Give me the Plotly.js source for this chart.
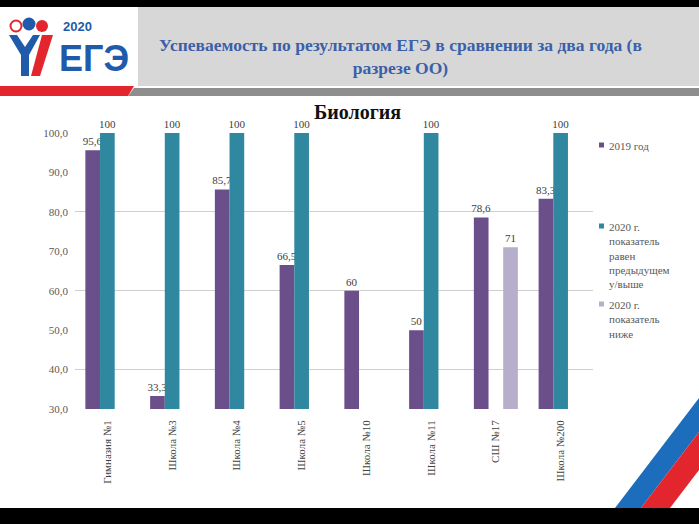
<!DOCTYPE html>
<html><head><meta charset="utf-8">
<script src="https://cdn.plot.ly/plotly-3.0.1.min.js"></script>
<style>html,body{margin:0;padding:0;background:#fff;}#chart{width:699px;height:524px;}</style>
</head><body><div id="chart"></div>
<script>
const categories = ['Гимназия №1','Школа №3','Школа №4','Школа №5','Школа №10','Школа №11','СШ №17','Школа №200'];
const v2019 = [95.6, 33.3, 85.7, 66.5, 60, 50, 78.6, 83.3];
const v2020same = [100, 100, 100, 100, null, 100, null, 100];
const v2020lower = [null, null, null, null, null, null, 71, null];
const seriesNames = ['2019 год', '2020 г.<br>показатель<br>равен<br>предыдущем<br>у/выше', '2020 г.<br>показатель<br>ниже'];
const seriesColors = ['#6B4F8B', '#2F87A0', '#B7AECB'];
const chartTitle = 'Биология';
const headerTitle = 'Успеваемость по результатом ЕГЭ в сравнении за два года (в<br>разрезе ОО)';

const L = 75, R = 593, T = 133, B = 409, W = 699, H = 524;
const X = p => (p - L) / (R - L);
const Y = p => (B - p) / (B - T);
const fmt = v => v == null ? '' : String(v).replace('.', ',');
const poly = pts => 'M' + pts.map(p => X(p[0]) + ',' + Y(p[1])).join(' L') + ' Z';

const serif = 'Liberation Serif, Times New Roman, serif';
const sans = 'Liberation Sans, Arial, sans-serif';
const seriesValues = [v2019, v2020same, v2020lower];
const traces = seriesValues.map((vals, i) => ({
  type: 'bar', x: categories, y: vals, name: seriesNames[i],
  marker: {color: seriesColors[i]},
  text: vals.map(fmt), textposition: 'outside', cliponaxis: false, constraintext: 'none',
  textfont: {family: serif, size: 11, color: '#404040'},
  showlegend: false, hoverinfo: 'skip'
}));
// invisible trace for the 20-step gridlines
traces.push({type: 'scatter', x: [categories[0]], y: [null], yaxis: 'y2', showlegend: false, hoverinfo: 'skip'});

const rect = (x0, y0, x1, y1, color) => ({type: 'rect', xref: 'paper', yref: 'paper', x0: X(x0), x1: X(x1), y0: Y(y0), y1: Y(y1), fillcolor: color, line: {width: 0}, layer: 'below'});
const path = (pts, color) => ({type: 'path', xref: 'paper', yref: 'paper', path: poly(pts), fillcolor: color, line: {width: 0}, layer: 'below'});
const circ = (cx, cy, r, fill, lineColor, lw) => ({type: 'circle', xref: 'paper', yref: 'paper', x0: X(cx - r), x1: X(cx + r), y0: Y(cy + r), y1: Y(cy - r), fillcolor: fill, line: {color: lineColor, width: lw}, layer: 'above'});

const shapes = [
  rect(0, 0, W, 7, '#000'),
  rect(138, 7, W, 86, '#D7D7D7'),
  path([[0, 86], [134, 86], [128, 96], [0, 96]], '#E3262D'),
  path([[134, 88], [W, 88], [W, 96], [128, 96]], '#8E8E8E'),
  rect(0, 508, W, H, '#000'),
  path([[615, 508], [641, 508], [W, 432], [W, 398]], '#1C6DBB'),
  path([[641, 508], [670, 508], [W, 470], [W, 432]], '#E3262D'),
  // logo figures
  path([[9, 35], [17, 35], [25, 47], [33, 35], [40, 35], [29, 55], [29, 76], [21, 76], [21, 55]], '#1F5BAA'),
  path([[42, 35], [53, 35], [40, 76], [31, 76]], '#E3262D'),
  path([[5, 40], [10, 40], [20, 56], [20, 76], [8, 76]], '#FFFFFF'),
  circ(16, 26, 5.5, '#FFFFFF', '#E3262D', 2),
  circ(29, 24, 6.5, '#1F5BAA', '#1F5BAA', 0),
  circ(42, 26, 6, '#E3262D', '#E3262D', 0)
];
// legend markers
const legendTop = [145, 226, 304];
seriesColors.forEach((c, i) => {
  shapes.push({type: 'rect', xref: 'paper', yref: 'paper', x0: X(599), x1: X(604), y0: Y(legendTop[i] + 2.5), y1: Y(legendTop[i] - 2.5), fillcolor: c, line: {width: 0}});
});

const annotations = [
  {text: '<b>' + headerTitle + '</b>', xref: 'paper', yref: 'paper', x: X(400), y: Y(56), xanchor: 'center', yanchor: 'middle', showarrow: false, align: 'center', font: {family: serif, size: 17.5, color: '#3B5FA9'}},
  {text: '<b>' + chartTitle + '</b>', xref: 'paper', yref: 'paper', x: X(357), y: Y(112), xanchor: 'center', yanchor: 'middle', showarrow: false, font: {family: serif, size: 20, color: '#111'}},
  {text: '<b>2020</b>', xref: 'paper', yref: 'paper', x: X(61), y: Y(26), xanchor: 'left', yanchor: 'middle', showarrow: false, font: {family: sans, size: 13, color: '#1F5BAA'}},
  {text: '<b>ЕГЭ</b>', xref: 'paper', yref: 'paper', x: X(57), y: Y(59), xanchor: 'left', yanchor: 'middle', showarrow: false, font: {family: sans, size: 36, color: '#1F5BAA'}}
];
seriesNames.forEach((n, i) => {
  annotations.push({text: n, xref: 'paper', yref: 'paper', x: X(607), y: Y(legendTop[i] - 7), xanchor: 'left', yanchor: 'top', align: 'left', showarrow: false, font: {family: serif, size: 11, color: '#595959'}});
});

const layout = {
  width: W, height: H,
  margin: {l: L, r: W - R, t: T, b: H - B, pad: 0},
  paper_bgcolor: '#FFFFFF', plot_bgcolor: 'rgba(0,0,0,0)',
  font: {family: serif},
  separators: ', ',
  barmode: 'group', bargap: 0.32, bargroupgap: 0,
  xaxis: {type: 'category', showgrid: false, showline: false, zeroline: false, ticks: '', tickangle: -90,
          tickfont: {family: serif, size: 11, color: '#404040'}, ticklabelstandoff: 8},
  yaxis: {range: [30, 100], dtick: 10, tick0: 0, tickformat: '.1f', showgrid: false, zeroline: false, showline: false, ticks: '',
          tickfont: {family: serif, size: 11, color: '#595959'}, ticklabelstandoff: 6},
  yaxis2: {overlaying: 'y', range: [30, 100], dtick: 20, tick0: 0, showgrid: true, gridcolor: '#CFCFCF', gridwidth: 1,
           showticklabels: false, zeroline: false, showline: false, ticks: '', side: 'left'},
  shapes: shapes,
  annotations: annotations,
  showlegend: false
};
Plotly.newPlot('chart', traces, layout, {staticPlot: true, displayModeBar: false});
</script></body></html>
